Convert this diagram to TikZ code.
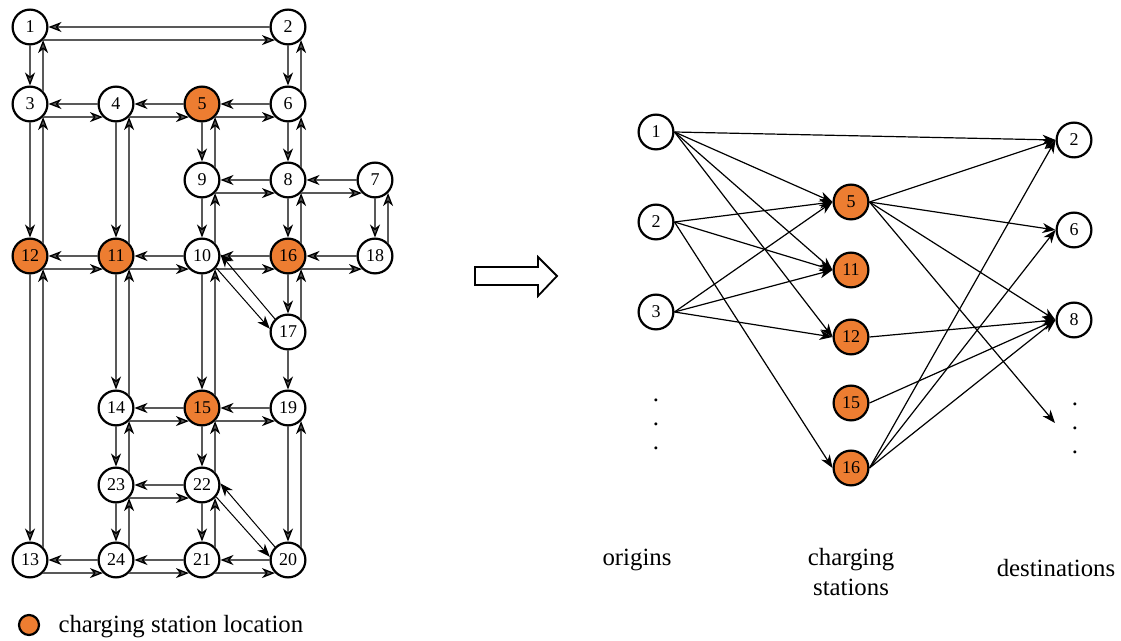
\documentclass[tikz,border=0pt]{standalone}
\usepackage{fontspec}
\setmainfont{Liberation Serif}
\usetikzlibrary{arrows.meta,positioning}

\definecolor{stationorange}{HTML}{ED7D31}

\tikzset{
  junction/.style={circle,draw,line width=1.1pt,minimum size=17.4pt,inner sep=0pt,
    font=\fontsize{9}{10}\selectfont},
  station/.style={junction,fill=stationorange},
  road/.style={line width=0.65pt,black!65,
    -{Stealth[length=6.5pt,width=5pt,inset=2pt,color=black]}},
  flow/.style={line width=0.6pt,black,-{Stealth[length=6.5pt,width=5pt,inset=2pt]}},
  caption/.style={font=\fontsize{12.4}{15}\selectfont,align=center,inner sep=0pt},
  ellipsis/.style={caption,font=\fontsize{12.4}{12}\selectfont}
}

\begin{document}
\begin{tikzpicture}[x=0.5pt,y=-0.5pt,node distance=45pt]
  \useasboundingbox (0,0) rectangle (1121,641);

  % road network
  \node[junction] (n1)  at (30,27)   {1};
  \node[junction] (n2)  at (288,27)  {2};
  \node[junction] (n3)  at (30,104)  {3};
  \node[junction] (n4)  at (116,104) {4};
  \node[station]  (n5)  at (202,104) {5};
  \node[junction] (n6)  at (288,104) {6};
  \node[junction] (n9)  at (202,180) {9};
  \node[junction] (n8)  at (288,180) {8};
  \node[junction] (n7)  at (375,180) {7};
  \node[station]  (n12) at (30,256)  {12};
  \node[station]  (n11) at (116,256) {11};
  \node[junction] (n10) at (202,256) {10};
  \node[station]  (n16) at (288,256) {16};
  \node[junction] (n18) at (375,256) {18};
  \node[junction] (n17) at (288,332) {17};
  \node[junction] (n14) at (116,408) {14};
  \node[station]  (n15) at (202,408) {15};
  \node[junction] (n19) at (288,408) {19};
  \node[junction] (n23) at (116,485) {23};
  \node[junction] (n22) at (202,485) {22};
  \node[junction] (n13) at (30,560)  {13};
  \node[junction] (n24) at (116,560) {24};
  \node[junction] (n21) at (202,560) {21};
  \node[junction] (n20) at (288,560) {20};

  % horizontal links
  \path[road] (n2) edge (n1)    (n1.-45) edge (n2.-135)
              (n4) edge (n3)    (n3.-45) edge (n4.-135)
              (n5) edge (n4)    (n4.-45) edge (n5.-135)
              (n6) edge (n5)    (n5.-45) edge (n6.-135)
              (n8) edge (n9)    (n9.-45) edge (n8.-135)
              (n7) edge (n8)    (n8.-45) edge (n7.-135)
              (n11) edge (n12)  (n12.-45) edge (n11.-135)
              (n10) edge (n11)  (n11.-45) edge (n10.-135)
              (n16) edge (n10)  (n10.-45) edge (n16.-135)
              (n18) edge (n16)  (n16.-45) edge (n18.-135)
              (n15) edge (n14)  (n14.-45) edge (n15.-135)
              (n19) edge (n15)  (n15.-45) edge (n19.-135)
              (n22) edge (n23)  (n23.-45) edge (n22.-135)
              (n24) edge (n13)  (n13.-45) edge (n24.-135)
              (n21) edge (n24)  (n24.-45) edge (n21.-135)
              (n20) edge (n21)  (n21.-45) edge (n20.-135);

  % vertical links
  \path[road] (n1) edge (n3)    (n3.45) edge (n1.-45)
              (n2) edge (n6)    (n6.45) edge (n2.-45)
              (n3) edge (n12)   (n12.45) edge (n3.-45)
              (n4) edge (n11)   (n11.45) edge (n4.-45)
              (n5) edge (n9)    (n9.45) edge (n5.-45)
              (n6) edge (n8)    (n8.45) edge (n6.-45)
              (n7) edge (n18)   (n18.45) edge (n7.-45)
              (n9) edge (n10)   (n10.45) edge (n9.-45)
              (n8) edge (n16)   (n16.45) edge (n8.-45)
              (n12) edge (n13)  (n13.45) edge (n12.-45)
              (n11) edge (n14)  (n14.45) edge (n11.-45)
              (n10) edge (n15)  (n15.45) edge (n10.-45)
              (n16) edge (n17)  (n17.45) edge (n16.-45)
              (n14) edge (n23)  (n23.45) edge (n14.-45)
              (n15) edge (n22)  (n22.45) edge (n15.-45)
              (n19) edge (n20)  (n20.45) edge (n19.-45)
              (n23) edge (n24)  (n24.45) edge (n23.-45)
              (n22) edge (n21)  (n21.45) edge (n22.-45)
              (n17) edge (n19);

  % diagonal links
  \path[road,black,line width=0.5pt]
              (n10.-40) edge (n17.170)  (n17.135) edge (n10.5)
              (n22.-40) edge (n20.170)  (n20.135) edge (n22.5);

  % legend
  \node[station,minimum size=10pt] (key) at (29,625) {};
  \node[caption,right=9pt of key,yshift=-1pt] (keytext) {charging station location};

  % transition arrow
  \draw[line width=0.9pt] (475,267) -- (538,267) -- (538,257) -- (557,276)
    -- (538,296) -- (538,285) -- (475,285) -- cycle;

  % origins, charging stations, destinations
  \node[junction] (o1) at (656,132) {1};
  \node[junction] (o2) [below of=o1] {2};
  \node[junction] (o3) [below of=o2] {3};
  \node[ellipsis] (odots) at (656,424) {.\\.\\.};

  \node[station] (c5)  at (851,202) {5};
  \node[station] (c11) at (851,270) {11};
  \node[station] (c12) at (851,337) {12};
  \node[station] (c15) at (851,403) {15};
  \node[station] (c16) at (851,468) {16};

  \node[junction] (d2) at (1074,140) {2};
  \node[junction] (d6) [below of=d2] {6};
  \node[junction] (d8) [below of=d6] {8};
  \node[ellipsis] (ddots) at (1075,428) {.\\.\\.};
  \coordinate (dmore) at (1055,423);

  \path[flow] (o1.east) edge (d2.west) edge (c5.west) edge (c11.west) edge (c12.west)
              (o2.east) edge (c5.west) edge (c11.west) edge (c16.west)
              (o3.east) edge (c5.west) edge (c11.west) edge (c12.west)
              (c5.east) edge (d2.west) edge (d6.west) edge (d8.west) edge (dmore)
              (c12.east) edge (d8.west)
              (c15.east) edge (d8.west)
              (c16.east) edge (d2.west) edge (d6.west) edge (d8.west);

  \node[caption] (lorig) at (637,560) {origins};
  \node[caption] (lstat) at (851,572) {charging\\stations};
  \node[caption] (ldest) at (1056,568) {destinations};
\end{tikzpicture}
\end{document}
